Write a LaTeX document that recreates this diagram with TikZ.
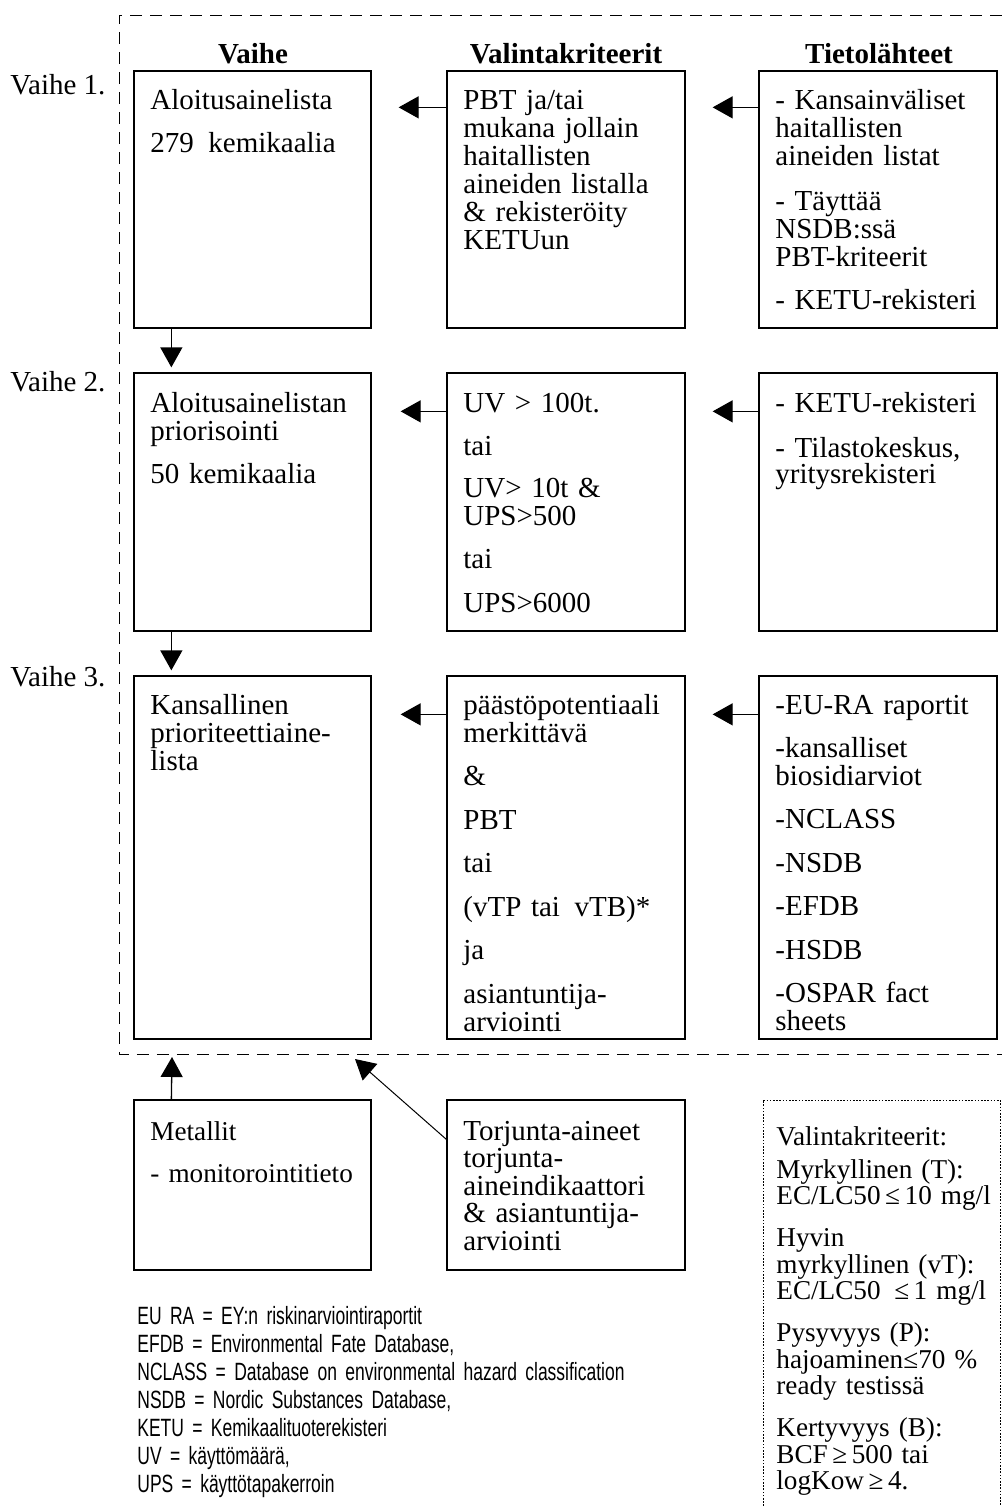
\documentclass[tikz,border=0pt]{standalone}
\usepackage{fontspec}
\setmainfont{Liberation Serif}
\newfontfamily\legendfont[FakeStretch=0.7]{Liberation Sans}
\usetikzlibrary{arrows.meta,calc,fit}

\begin{document}
\begin{tikzpicture}[x=0.5pt,y=-0.5pt,
  boxframe/.style={draw, line width=0.65pt, inner sep=0pt},
  txt/.style={anchor=base west, inner sep=0pt, text width=140pt, align=left,
              font=\fontsize{14.5}{14}\selectfont},
  txtb/.style={txt, font=\fontsize{14.5}{13.75}\selectfont},
  txtc/.style={txt, text width=120pt, font=\fontsize{13.6}{13.25}\selectfont},
  head/.style={anchor=base, inner sep=0pt, font=\bfseries\fontsize{14.5}{14}\selectfont},
  stage/.style={anchor=base west, inner sep=0pt, font=\fontsize{14.5}{14}\selectfont},
  legend/.style={anchor=base west, inner sep=0pt, text width=300pt, align=left,
                 font=\legendfont\fontsize{12.5}{14}\selectfont},
  arr/.style={line width=0.65pt, -{Triangle[length=10pt,width=11pt]}},
  thinarr/.style={line width=0.5pt, -{Triangle[length=10pt,width=11pt]}},
  frame/.style={line width=0.5pt, dash pattern=on 6pt off 4pt},
  dotbox/.style={line width=0.5pt, dash pattern=on 0.8pt off 0.8pt}
]
\useasboundingbox (0,0) rectangle (1002,1506);

% outer dashed frame (open to the right)
\draw[frame] (1002,15) -- (119,15) -- (119,1054) -- (1002,1054);

% column headings
\node[head] (hA) at (253,63) {Vaihe};
\node[head] (hB) at (566,63) {Valintakriteerit};
\node[head] (hC) at (879,63) {Tietolähteet};

% stage labels
\node[stage] (s1) at (10,94) {Vaihe 1.};
\node[stage] (s2) at (10,391) {Vaihe 2.};
\node[stage] (s3) at (10,686) {Vaihe 3.};

% boxes
\node[boxframe, fit={(134,71) (371,328)}] (A1) {};
\node[boxframe, fit={(447,71) (685,328)}] (B1) {};
\node[boxframe, fit={(759,71) (997,328)}] (C1) {};
\node[boxframe, fit={(134,373) (371,631)}] (A2) {};
\node[boxframe, fit={(447,373) (685,631)}] (B2) {};
\node[boxframe, fit={(759,373) (997,631)}] (C2) {};
\node[boxframe, fit={(134,676) (371,1039)}] (A3) {};
\node[boxframe, fit={(447,676) (685,1039)}] (B3) {};
\node[boxframe, fit={(759,676) (997,1039)}] (C3) {};
\node[boxframe, fit={(134,1100) (371,1270)}] (M) {};
\node[boxframe, fit={(447,1100) (685,1270)}] (T) {};

% box texts
\node[txt] (tA1) at (150,109) {Aloitusainelista\\[7.75pt]279\enspace kemikaalia};
\node[txt] (tB1) at (463,109) {PBT ja/tai\\ mukana jollain\\ haitallisten\\ aineiden listalla\\ \& rekisteröity\\ KETUun};
\node[txt] (tC1) at (775,109) {- Kansainväliset\\ haitallisten\\ aineiden listat\\[8.5pt] - Täyttää\\ NSDB:ssä\\ PBT-kriteerit\\[7.5pt] - KETU-rekisteri};

\node[txt] (tA2) at (150,412) {Aloitusainelistan\\ priorisointi\\[7.5pt] 50 kemikaalia};
\node[txt] (tB2) at (463,412) {UV > 100t.\\[7.5pt] tai\\[7pt] UV> 10t \&\\ UPS>500\\[7.5pt] tai\\[8pt] UPS>6000};
\node[txt] (tC2) at (775,412) {- KETU-rekisteri\\[8.5pt] - Tilastokeskus,\\[-1pt] yritysrekisteri};

\node[txt] (tA3) at (150,714) {Kansallinen\\ prioriteettiaine-\\ lista};
\node[txt] (tB3) at (463,714) {päästöpotentiaali\\ merkittävä\\[7.75pt] \&\\[7.75pt] PBT\\[7.75pt] tai\\[7.75pt] (vTP tai\enspace vTB)*\\[7.75pt] ja\\[7.75pt] asiantuntija-\\ arviointi};
\node[txt] (tC3) at (775,714) {-EU-RA raportit\\[7.5pt] -kansalliset\\ biosidiarviot\\[7.75pt] -NCLASS\\[7.75pt] -NSDB\\[7.75pt] -EFDB\\[7.75pt] -HSDB\\[7.75pt] -OSPAR fact\\ sheets};

\node[txt, font=\fontsize{13.6}{14}\selectfont] (tM) at (150,1140) {Metallit\\[7pt] - monitorointitieto};
\node[txtb] (tT) at (463,1140) {Torjunta-aineet\\ torjunta-\\ aineindikaattori\\ \& asiantuntija-\\ arviointi};

% horizontal arrows (sources -> criteria -> stage)
\draw[arr, shorten >=13.5pt] ($(B1.north west)+(0,37)$) -- ($(A1.north east)+(0,37)$);
\draw[arr, shorten >=13.5pt] ($(C1.north west)+(0,37)$) -- ($(B1.north east)+(0,37)$);
\draw[arr, shorten >=14.5pt] ($(B2.north west)+(0,39)$) -- ($(A2.north east)+(0,39)$);
\draw[arr, shorten >=13.5pt] ($(C2.north west)+(0,39)$) -- ($(B2.north east)+(0,39)$);
\draw[arr, shorten >=14.5pt] ($(B3.north west)+(0,39)$) -- ($(A3.north east)+(0,39)$);
\draw[arr, shorten >=13.5pt] ($(C3.north west)+(0,39)$) -- ($(B3.north east)+(0,39)$);

% vertical arrows between stages
\draw[arr, shorten >=2.5pt] ($(A1.south west)+(38,0)$) -- ($(A2.north west)+(38,0)$);
\draw[arr, shorten >=2.5pt] ($(A2.south west)+(38,0)$) -- ($(A3.north west)+(38,0)$);

% inputs from below into the frame
\coordinate (inM) at (172,1057);
\coordinate (inT) at (355,1059);
\draw[arr] ($(M.north west)+(38,0)$) -- (inM);
\draw[thinarr] ($(T.north west)+(0,40)$) -- (inT);

% criteria panel (dotted, open at the bottom)
\draw[dotbox] (763,1506) -- (763,1100) -- (1000,1100) -- (1000,1506);
\node[txtc] (tK) at (776,1145) {Valintakriteerit:\\[3.25pt] Myrkyllinen (T):\\ EC/LC50\,≤\,10 mg/l\\[7.75pt] Hyvin\\ myrkyllinen (vT):\\ EC/LC50\enspace ≤\,1 mg/l\\[7.75pt] Pysyvyys (P):\\ hajoaminen≤70 \%\\ ready testissä\\[7.75pt] Kertyvyys (B):\\ BCF\,≥\,500 tai\\ logKow\,≥\,4.};

% abbreviations
\node[legend] (lg) at (137,1324) {EU RA = EY:n riskinarviointiraportit\\ EFDB = Environmental Fate Database,\\ NCLASS = Database on environmental hazard classification\\ NSDB = Nordic Substances Database,\\ KETU = Kemikaalituoterekisteri\\ UV = käyttömäärä,\\ UPS = käyttötapakerroin};
\end{tikzpicture}
\end{document}
